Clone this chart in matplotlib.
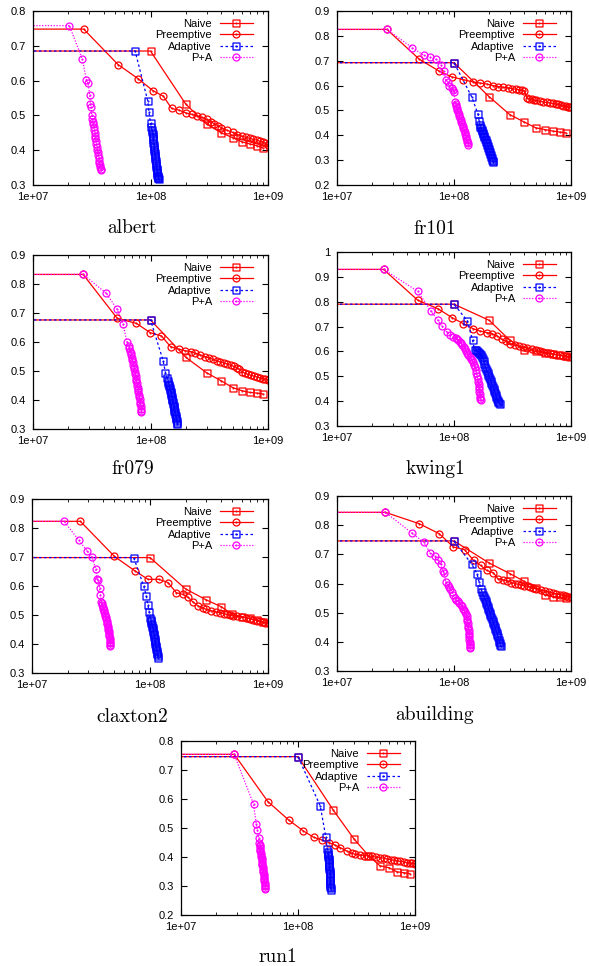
import matplotlib
matplotlib.use("Agg")
import matplotlib.pyplot as plt
import numpy as np
from matplotlib import ticker
from matplotlib.path import Path

plt.rcParams['font.family'] = ['Liberation Sans', 'DejaVu Sans']

# ---------------- data ----------------
# albert
albert_naive_x = [1e6, 1e8, 2e8, 3e8, 4e8, 5e8, 6e8, 7e8, 8e8, 9e8]
albert_naive_y = [0.685, 0.685, 0.532, 0.475, 0.450, 0.436, 0.424, 0.418, 0.413, 0.407]
albert_pre_x = [1e6, 2.7e7, 5.3e7, 7.8e7, 1.05e8, 1.29e8, 1.51e8, 1.76e8, 2.0e8, 2.25e8, 2.5e8, 2.75e8,
                3.0e8, 3.25e8, 3.5e8, 3.75e8, 4.0e8, 4.5e8, 5.0e8, 5.5e8, 6.0e8, 6.5e8, 7.0e8, 7.5e8,
                8.0e8, 8.5e8, 9.0e8, 9.5e8, 1.0e9]
albert_pre_y = [0.748, 0.748, 0.646, 0.606, 0.571, 0.555, 0.520, 0.515, 0.507, 0.503, 0.498, 0.494,
                0.489, 0.482, 0.476, 0.470, 0.465, 0.457, 0.451, 0.445, 0.440, 0.437, 0.434, 0.431,
                0.429, 0.426, 0.424, 0.420, 0.416]
albert_ada_x = [1e6, 7.4e7, 9.5e7, 9.7e7, 1.0e8, 1.015e8, 1.025e8, 1.035e8, 1.04e8, 1.045e8, 1.05e8,
                1.055e8, 1.06e8, 1.065e8, 1.07e8, 1.075e8, 1.08e8, 1.085e8, 1.09e8, 1.095e8, 1.10e8,
                1.105e8, 1.11e8, 1.115e8, 1.12e8, 1.125e8, 1.13e8, 1.135e8, 1.14e8, 1.145e8, 1.15e8,
                1.155e8, 1.16e8, 1.165e8, 1.17e8]
albert_ada_y = [0.685, 0.685, 0.540, 0.510, 0.478, 0.466, 0.458, 0.452, 0.446, 0.440, 0.434,
                0.428, 0.422, 0.416, 0.410, 0.404, 0.398, 0.392, 0.386, 0.380, 0.374,
                0.368, 0.362, 0.357, 0.352, 0.347, 0.342, 0.338, 0.334, 0.330, 0.327,
                0.324, 0.321, 0.319, 0.317]
albert_pa_x = [1e6, 2.04e7, 2.62e7, 2.85e7, 2.94e7, 3.04e7, 3.08e7, 3.12e7, 3.16e7, 3.19e7, 3.22e7,
               3.25e7, 3.28e7, 3.31e7, 3.34e7, 3.37e7, 3.40e7, 3.43e7, 3.46e7, 3.49e7, 3.52e7,
               3.55e7, 3.58e7, 3.61e7, 3.64e7, 3.67e7, 3.70e7, 3.73e7, 3.76e7, 3.78e7]
albert_pa_y = [0.758, 0.758, 0.663, 0.603, 0.592, 0.558, 0.533, 0.525, 0.500, 0.490, 0.482,
               0.474, 0.466, 0.458, 0.450, 0.442, 0.434, 0.426, 0.418, 0.410, 0.402,
               0.394, 0.386, 0.378, 0.370, 0.363, 0.357, 0.351, 0.346, 0.343]

# fr101
fr101_naive_x = [1e6, 1e8, 2e8, 3e8, 4e8, 5e8, 6e8, 7e8, 8e8, 9e8]
fr101_naive_y = [0.692, 0.692, 0.555, 0.483, 0.453, 0.430, 0.423, 0.417, 0.413, 0.410]
fr101_pre_x = [1e6, 2.67e7, 5.05e7, 7.47e7, 9.55e7, 1.2e8, 1.44e8, 1.68e8, 1.92e8, 2.16e8, 2.4e8,
               2.64e8, 2.88e8, 3.12e8, 3.36e8, 3.6e8, 3.84e8, 4.0e8, 4.2e8, 4.4e8, 4.6e8, 4.8e8,
               5.0e8, 5.4e8, 5.8e8, 6.2e8, 6.6e8, 7.0e8, 7.4e8, 7.8e8, 8.2e8, 8.6e8, 9.0e8, 9.4e8,
               9.7e8, 1.0e9]
fr101_pre_y = [0.826, 0.826, 0.706, 0.658, 0.635, 0.624, 0.615, 0.610, 0.606, 0.600, 0.596, 0.593,
               0.591, 0.588, 0.585, 0.583, 0.581, 0.579, 0.550, 0.547, 0.545, 0.543, 0.540, 0.537,
               0.534, 0.532, 0.530, 0.528, 0.526, 0.524, 0.521, 0.519, 0.517, 0.515, 0.513, 0.512]
fr101_ada_x = [1e6, 1e8, 1.42e8, 1.6e8, 1.64e8, 1.66e8, 1.68e8, 1.70e8, 1.72e8, 1.74e8, 1.76e8,
               1.78e8, 1.80e8, 1.82e8, 1.84e8, 1.86e8, 1.88e8, 1.90e8, 1.92e8, 1.94e8, 1.96e8,
               1.98e8, 2.00e8, 2.02e8, 2.04e8, 2.06e8, 2.08e8, 2.10e8, 2.12e8, 2.14e8, 2.16e8]
fr101_ada_y = [0.692, 0.692, 0.554, 0.486, 0.458, 0.441, 0.434, 0.428, 0.422, 0.416, 0.410,
               0.404, 0.398, 0.392, 0.386, 0.380, 0.374, 0.368, 0.362, 0.356, 0.350,
               0.344, 0.338, 0.332, 0.326, 0.320, 0.314, 0.308, 0.302, 0.297, 0.293]
fr101_pa_x = [1e6, 2.67e7, 4.37e7, 5.5e7, 6.27e7, 7.05e7, 7.77e7, 8.15e7, 8.5e7, 8.85e7, 9.1e7,
              9.6e7, 9.9e7, 1.0e8, 1.02e8, 1.03e8, 1.04e8, 1.055e8, 1.07e8, 1.08e8, 1.095e8,
              1.11e8, 1.125e8, 1.14e8, 1.155e8, 1.17e8, 1.185e8, 1.20e8, 1.215e8, 1.23e8, 1.24e8,
              1.255e8, 1.265e8, 1.28e8, 1.29e8, 1.305e8, 1.32e8]
fr101_pa_y = [0.826, 0.826, 0.753, 0.722, 0.713, 0.705, 0.682, 0.658, 0.624, 0.615, 0.597,
              0.590, 0.584, 0.575, 0.534, 0.526, 0.518, 0.510, 0.502, 0.494, 0.486,
              0.478, 0.470, 0.462, 0.454, 0.446, 0.438, 0.430, 0.422, 0.414, 0.406,
              0.398, 0.390, 0.382, 0.374, 0.367, 0.361]

# fr079
fr079_naive_x = [1e6, 1e8, 2e8, 3e8, 4e8, 5e8, 6e8, 7e8, 8e8, 9e8]
fr079_naive_y = [0.676, 0.676, 0.547, 0.494, 0.466, 0.443, 0.432, 0.426, 0.424, 0.421]
fr079_pre_x = [1e6, 2.67e7, 5.2e7, 7.6e7, 9.96e7, 1.24e8, 1.48e8, 1.74e8, 1.98e8, 2.2e8, 2.4e8,
               2.65e8, 2.9e8, 3.15e8, 3.4e8, 3.65e8, 3.9e8, 4.2e8, 4.5e8, 4.8e8, 5.1e8, 5.4e8,
               5.7e8, 6.0e8, 6.4e8, 6.8e8, 7.2e8, 7.6e8, 8.0e8, 8.5e8, 9.0e8, 9.5e8, 1.0e9]
fr079_pre_y = [0.833, 0.833, 0.682, 0.664, 0.632, 0.621, 0.584, 0.575, 0.570, 0.567, 0.561, 0.556,
               0.550, 0.545, 0.540, 0.536, 0.532, 0.528, 0.524, 0.520, 0.516, 0.512, 0.506, 0.498,
               0.492, 0.488, 0.485, 0.482, 0.480, 0.477, 0.474, 0.472, 0.470]
fr079_ada_x = [1e6, 1e8, 1.28e8, 1.34e8, 1.38e8, 1.41e8, 1.42e8, 1.43e8, 1.445e8, 1.455e8, 1.465e8,
               1.48e8, 1.49e8, 1.50e8, 1.51e8, 1.52e8, 1.535e8, 1.545e8, 1.555e8, 1.57e8, 1.58e8,
               1.59e8, 1.60e8, 1.615e8, 1.625e8, 1.64e8, 1.65e8, 1.66e8, 1.67e8, 1.675e8, 1.68e8]
fr079_ada_y = [0.676, 0.676, 0.536, 0.494, 0.477, 0.465, 0.459, 0.453, 0.447, 0.441, 0.435,
               0.429, 0.423, 0.417, 0.411, 0.405, 0.399, 0.393, 0.387, 0.381, 0.375,
               0.369, 0.363, 0.357, 0.351, 0.345, 0.339, 0.333, 0.327, 0.321, 0.316]
fr079_pa_x = [1e6, 2.67e7, 4.2e7, 5.2e7, 5.84e7, 6.3e7, 6.5e7, 6.6e7, 6.7e7, 6.78e7, 6.85e7,
              6.93e7, 7.0e7, 7.08e7, 7.15e7, 7.22e7, 7.28e7, 7.35e7, 7.42e7, 7.48e7, 7.54e7,
              7.6e7, 7.66e7, 7.72e7, 7.78e7, 7.84e7, 7.9e7, 7.96e7, 8.02e7, 8.08e7, 8.13e7,
              8.18e7, 8.23e7, 8.28e7, 8.32e7, 8.35e7]
fr079_pa_y = [0.833, 0.833, 0.768, 0.713, 0.661, 0.601, 0.586, 0.578, 0.570, 0.562, 0.554,
              0.546, 0.538, 0.530, 0.522, 0.514, 0.506, 0.498, 0.490, 0.482, 0.474,
              0.466, 0.458, 0.450, 0.442, 0.434, 0.426, 0.418, 0.410, 0.402, 0.394,
              0.386, 0.378, 0.370, 0.363, 0.357]

# kwing1
kwing1_naive_x = [1e6, 1e8, 2e8, 3e8, 4e8, 5e8, 6e8, 7e8, 8e8, 9e8]
kwing1_naive_y = [0.790, 0.790, 0.725, 0.645, 0.607, 0.600, 0.594, 0.590, 0.585, 0.580]
kwing1_pre_x = [1e6, 2.5e7, 4.9e7, 7.28e7, 9.7e7, 1.2e8, 1.45e8, 1.67e8, 1.9e8, 2.1e8, 2.35e8,
                2.58e8, 2.8e8, 3.0e8, 3.3e8, 3.6e8, 3.9e8, 4.2e8, 4.6e8, 5.0e8, 5.4e8, 5.8e8,
                6.2e8, 6.6e8, 7.0e8, 7.5e8, 8.0e8, 8.5e8, 9.0e8, 9.5e8, 1.0e9]
kwing1_pre_y = [0.930, 0.930, 0.806, 0.772, 0.735, 0.712, 0.692, 0.682, 0.676, 0.672, 0.662,
                0.648, 0.641, 0.631, 0.625, 0.621, 0.617, 0.613, 0.609, 0.605, 0.601, 0.598,
                0.595, 0.592, 0.590, 0.587, 0.585, 0.583, 0.581, 0.579, 0.578]
kwing1_ada_x = [1e6, 1e8, 1.3e8, 1.44e8, 1.5e8, 1.55e8, 1.58e8, 1.61e8, 1.64e8, 1.67e8, 1.70e8,
                1.73e8, 1.76e8, 1.79e8, 1.82e8, 1.85e8, 1.88e8, 1.91e8, 1.94e8, 1.97e8, 2.00e8,
                2.03e8, 2.06e8, 2.09e8, 2.12e8, 2.15e8, 2.18e8, 2.21e8, 2.24e8, 2.27e8, 2.30e8,
                2.33e8, 2.36e8, 2.40e8, 2.44e8, 2.48e8]
kwing1_ada_y = [0.790, 0.790, 0.723, 0.645, 0.607, 0.605, 0.600, 0.596, 0.592, 0.588, 0.584,
                0.578, 0.570, 0.560, 0.548, 0.538, 0.528, 0.520, 0.512, 0.505, 0.497,
                0.489, 0.481, 0.473, 0.465, 0.457, 0.449, 0.441, 0.432, 0.424, 0.416,
                0.409, 0.402, 0.396, 0.391, 0.387]
kwing1_pa_x = [1e6, 2.5e7, 4.9e7, 6.38e7, 7.28e7, 7.9e7, 8.7e7, 9.3e7, 9.9e7, 1.03e8, 1.06e8,
               1.09e8, 1.12e8, 1.15e8, 1.18e8, 1.21e8, 1.24e8, 1.27e8, 1.30e8, 1.33e8, 1.36e8,
               1.39e8, 1.42e8, 1.45e8, 1.48e8, 1.51e8, 1.53e8, 1.55e8, 1.57e8, 1.59e8, 1.61e8,
               1.62e8, 1.63e8, 1.64e8, 1.65e8, 1.66e8, 1.67e8, 1.68e8, 1.69e8]
kwing1_pa_y = [0.930, 0.930, 0.842, 0.761, 0.725, 0.701, 0.678, 0.665, 0.658, 0.655, 0.650,
               0.644, 0.638, 0.632, 0.626, 0.618, 0.610, 0.600, 0.592, 0.584, 0.577,
               0.571, 0.564, 0.556, 0.546, 0.536, 0.526, 0.514, 0.502, 0.490, 0.478,
               0.468, 0.458, 0.448, 0.438, 0.428, 0.418, 0.410, 0.404]

# claxton2
claxton2_naive_x = [1e6, 1e8, 2e8, 3e8, 4e8, 5e8, 6e8, 7e8, 8e8, 9e8]
claxton2_naive_y = [0.698, 0.698, 0.590, 0.552, 0.529, 0.502, 0.494, 0.488, 0.482, 0.477]
claxton2_pre_x = [1e6, 2.57e7, 5.0e7, 7.4e7, 9.6e7, 1.19e8, 1.42e8, 1.67e8, 1.9e8, 2.1e8, 2.3e8,
                  2.56e8, 2.8e8, 3.0e8, 3.3e8, 3.6e8, 3.9e8, 4.2e8, 4.5e8, 4.8e8, 5.1e8, 5.5e8,
                  6.0e8, 6.5e8, 7.0e8, 7.5e8, 8.0e8, 8.5e8, 9.0e8, 9.5e8, 1.0e9]
claxton2_pre_y = [0.823, 0.823, 0.702, 0.653, 0.623, 0.623, 0.612, 0.577, 0.571, 0.561, 0.546,
                  0.531, 0.525, 0.519, 0.515, 0.511, 0.508, 0.505, 0.502, 0.499, 0.497, 0.495,
                  0.493, 0.490, 0.487, 0.484, 0.481, 0.478, 0.476, 0.474, 0.473]
claxton2_ada_x = [1e6, 7.28e7, 8.84e7, 9.3e7, 9.6e7, 9.85e7, 1.0e8, 1.01e8, 1.02e8, 1.025e8,
                  1.035e8, 1.045e8, 1.055e8, 1.06e8, 1.07e8, 1.075e8, 1.08e8, 1.09e8, 1.095e8,
                  1.10e8, 1.105e8, 1.11e8, 1.12e8, 1.125e8, 1.13e8, 1.14e8, 1.145e8, 1.15e8,
                  1.16e8, 1.17e8]
claxton2_ada_y = [0.698, 0.698, 0.600, 0.567, 0.534, 0.511, 0.490, 0.484, 0.478, 0.472,
                  0.466, 0.460, 0.454, 0.448, 0.442, 0.436, 0.430, 0.424, 0.418,
                  0.412, 0.406, 0.400, 0.394, 0.388, 0.382, 0.376, 0.370, 0.364,
                  0.358, 0.352]
claxton2_pa_x = [1e6, 1.87e7, 2.5e7, 2.92e7, 3.25e7, 3.46e7, 3.57e7, 3.65e7, 3.74e7, 3.8e7,
                 3.87e7, 3.91e7, 3.95e7, 3.99e7, 4.03e7, 4.07e7, 4.11e7, 4.15e7, 4.19e7, 4.22e7,
                 4.25e7, 4.28e7, 4.31e7, 4.34e7, 4.37e7, 4.40e7, 4.43e7, 4.46e7, 4.48e7, 4.50e7,
                 4.52e7, 4.54e7, 4.56e7, 4.57e7, 4.58e7, 4.59e7, 4.60e7]
claxton2_pa_y = [0.823, 0.823, 0.757, 0.722, 0.699, 0.658, 0.623, 0.620, 0.592, 0.569,
                 0.546, 0.540, 0.534, 0.528, 0.522, 0.516, 0.510, 0.504, 0.498, 0.492,
                 0.486, 0.480, 0.474, 0.468, 0.462, 0.456, 0.450, 0.444, 0.438, 0.432,
                 0.426, 0.420, 0.414, 0.408, 0.402, 0.396, 0.392]

# abuilding
abuilding_naive_x = [1e6, 1e8, 2e8, 3e8, 4e8, 5e8, 6e8, 7e8, 8e8, 9e8]
abuilding_naive_y = [0.746, 0.746, 0.670, 0.634, 0.607, 0.585, 0.560, 0.555, 0.553, 0.551]
abuilding_pre_x = [1e6, 2.59e7, 5.05e7, 7.46e7, 9.9e7, 1.23e8, 1.47e8, 1.69e8, 1.9e8, 2.17e8,
                   2.36e8, 2.6e8, 2.85e8, 3.1e8, 3.3e8, 3.5e8, 3.75e8, 4.0e8, 4.25e8, 4.5e8,
                   4.75e8, 5.0e8, 5.5e8, 6.0e8, 6.5e8, 7.0e8, 7.5e8, 8.0e8, 8.5e8, 9.0e8,
                   9.5e8, 1.0e9]
abuilding_pre_y = [0.844, 0.844, 0.805, 0.771, 0.725, 0.716, 0.679, 0.662, 0.645, 0.637, 0.617,
                   0.613, 0.609, 0.603, 0.600, 0.598, 0.595, 0.593, 0.590, 0.588, 0.585, 0.582,
                   0.578, 0.575, 0.571, 0.568, 0.565, 0.562, 0.560, 0.557, 0.555, 0.553]
abuilding_ada_x = [1e6, 1e8, 1.42e8, 1.57e8, 1.64e8, 1.7e8, 1.74e8, 1.77e8, 1.80e8, 1.83e8,
                   1.86e8, 1.89e8, 1.92e8, 1.945e8, 1.97e8, 1.995e8, 2.02e8, 2.05e8, 2.08e8,
                   2.11e8, 2.14e8, 2.17e8, 2.2e8, 2.23e8, 2.26e8, 2.29e8, 2.32e8, 2.35e8,
                   2.38e8, 2.41e8, 2.44e8, 2.465e8, 2.49e8, 2.51e8]
abuilding_ada_y = [0.746, 0.746, 0.666, 0.634, 0.605, 0.582, 0.570, 0.562, 0.555, 0.548,
                   0.541, 0.534, 0.527, 0.520, 0.513, 0.506, 0.499, 0.492, 0.485,
                   0.478, 0.471, 0.464, 0.457, 0.450, 0.443, 0.436, 0.429, 0.422,
                   0.415, 0.408, 0.401, 0.395, 0.390, 0.386]
abuilding_pa_x = [1e6, 2.59e7, 4.37e7, 5.5e7, 6.27e7, 6.82e7, 7.28e7, 7.7e7, 7.98e7, 8.2e7,
                  8.5e7, 8.8e7, 9.0e7, 9.3e7, 9.6e7, 9.9e7, 1.02e8, 1.05e8, 1.08e8, 1.11e8,
                  1.14e8, 1.17e8, 1.20e8, 1.22e8, 1.24e8, 1.26e8, 1.28e8, 1.29e8, 1.30e8,
                  1.31e8, 1.32e8, 1.33e8, 1.335e8, 1.34e8, 1.345e8, 1.35e8, 1.355e8, 1.36e8,
                  1.365e8, 1.37e8, 1.37e8, 1.36e8]
abuilding_pa_y = [0.844, 0.844, 0.773, 0.742, 0.705, 0.693, 0.679, 0.666, 0.643, 0.636,
                  0.605, 0.594, 0.588, 0.582, 0.572, 0.559, 0.552, 0.545, 0.539, 0.533,
                  0.528, 0.522, 0.514, 0.508, 0.502, 0.495, 0.488, 0.480, 0.472,
                  0.464, 0.456, 0.448, 0.440, 0.432, 0.424, 0.416, 0.408, 0.400,
                  0.394, 0.388, 0.382, 0.378]

# run1
run1_naive_x = [1e6, 1e8, 2e8, 3e8, 4e8, 5e8, 6e8, 7e8, 8e8, 9e8]
run1_naive_y = [0.746, 0.746, 0.562, 0.463, 0.405, 0.370, 0.363, 0.349, 0.346, 0.343]
run1_pre_x = [1e6, 2.85e7, 5.53e7, 8.3e7, 1.11e8, 1.36e8, 1.59e8, 1.84e8, 2.07e8, 2.3e8, 2.6e8,
              2.87e8, 3.1e8, 3.4e8, 3.7e8, 4.0e8, 4.3e8, 4.6e8, 5.0e8, 5.4e8, 5.8e8, 6.2e8,
              6.6e8, 7.0e8, 7.5e8, 8.0e8, 8.5e8, 9.0e8, 9.5e8, 1.0e9]
run1_pre_y = [0.754, 0.754, 0.591, 0.528, 0.490, 0.468, 0.459, 0.450, 0.441, 0.432, 0.421,
              0.413, 0.409, 0.407, 0.405, 0.404, 0.402, 0.400, 0.398, 0.396, 0.393, 0.391,
              0.389, 0.387, 0.385, 0.383, 0.381, 0.380, 0.378, 0.377]
run1_ada_x = [1e6, 1e8, 1.55e8, 1.73e8, 1.78e8, 1.79e8, 1.795e8, 1.80e8, 1.82e8, 1.825e8, 1.83e8,
              1.835e8, 1.84e8, 1.845e8, 1.85e8, 1.855e8, 1.86e8, 1.865e8, 1.87e8, 1.875e8,
              1.88e8, 1.88e8, 1.885e8, 1.89e8, 1.89e8, 1.895e8, 1.90e8, 1.90e8]
run1_ada_y = [0.746, 0.746, 0.576, 0.468, 0.427, 0.418, 0.412, 0.406, 0.400, 0.394, 0.388,
              0.382, 0.376, 0.370, 0.364, 0.358, 0.352, 0.346, 0.340, 0.334,
              0.328, 0.322, 0.316, 0.310, 0.304, 0.298, 0.292, 0.287]
run1_pa_x = [1e6, 2.85e7, 4.17e7, 4.4e7, 4.5e7, 4.6e7, 4.67e7, 4.69e7, 4.71e7, 4.73e7, 4.75e7,
             4.77e7, 4.80e7, 4.83e7, 4.86e7, 4.89e7, 4.91e7, 4.93e7, 4.95e7, 4.97e7, 4.99e7,
             5.01e7, 5.03e7, 5.05e7, 5.08e7, 5.10e7, 5.12e7, 5.14e7, 5.16e7, 5.18e7, 5.20e7,
             5.22e7, 5.23e7, 5.25e7]
run1_pa_y = [0.754, 0.754, 0.582, 0.513, 0.493, 0.464, 0.449, 0.443, 0.437, 0.431, 0.425,
             0.419, 0.413, 0.407, 0.401, 0.395, 0.389, 0.383, 0.377, 0.371, 0.365,
             0.359, 0.353, 0.347, 0.341, 0.335, 0.329, 0.323, 0.317, 0.311, 0.305,
             0.299, 0.293, 0.289]

series_names = ["Naive", "Preemptive", "Adaptive", "P+A"]

# ---------------- styling ----------------
W, H = 589, 966
sq = Path.make_compound_path(
    Path([(-1, -1), (1, -1), (1, 1), (-1, 1), (-1, -1)], closed=True),
    Path.circle((0, 0), 0.12))
cd = Path.make_compound_path(Path.circle((0, 0), 1.0), Path.circle((0, 0), 0.12))
styles = [
    dict(color="#ff0000", ls="-", marker=sq),
    dict(color="#ff0000", ls="-", marker=cd),
    dict(color="#0000ff", ls=(0, (2, 2)), marker=sq),
    dict(color="#ff00ff", ls=(0, (1, 1.3)), marker=cd),
]

# name, ylim, data, axes box (l, t, r, b) px, caption centre px
panels = [
    ("albert", (0.3, 0.8),
     [(albert_naive_x, albert_naive_y), (albert_pre_x, albert_pre_y),
      (albert_ada_x, albert_ada_y), (albert_pa_x, albert_pa_y)],
     (33, 11, 268, 185), (132, 228)),
    ("fr101", (0.2, 0.9),
     [(fr101_naive_x, fr101_naive_y), (fr101_pre_x, fr101_pre_y),
      (fr101_ada_x, fr101_ada_y), (fr101_pa_x, fr101_pa_y)],
     (337, 11, 571, 185), (435, 229)),
    ("fr079", (0.3, 0.9),
     [(fr079_naive_x, fr079_naive_y), (fr079_pre_x, fr079_pre_y),
      (fr079_ada_x, fr079_ada_y), (fr079_pa_x, fr079_pa_y)],
     (33, 255, 268, 429), (133, 469)),
    ("kwing1", (0.3, 1.0),
     [(kwing1_naive_x, kwing1_naive_y), (kwing1_pre_x, kwing1_pre_y),
      (kwing1_ada_x, kwing1_ada_y), (kwing1_pa_x, kwing1_pa_y)],
     (337, 252, 571, 426), (435, 469)),
    ("claxton2", (0.3, 0.9),
     [(claxton2_naive_x, claxton2_naive_y), (claxton2_pre_x, claxton2_pre_y),
      (claxton2_ada_x, claxton2_ada_y), (claxton2_pa_x, claxton2_pa_y)],
     (32, 499, 268, 673), (132, 717)),
    ("abuilding", (0.3, 0.9),
     [(abuilding_naive_x, abuilding_naive_y), (abuilding_pre_x, abuilding_pre_y),
      (abuilding_ada_x, abuilding_ada_y), (abuilding_pa_x, abuilding_pa_y)],
     (337, 496, 571, 671), (435, 715)),
    ("run1", (0.2, 0.8),
     [(run1_naive_x, run1_naive_y), (run1_pre_x, run1_pre_y),
      (run1_ada_x, run1_ada_y), (run1_pa_x, run1_pa_y)],
     (181, 741, 415, 915), (278, 957)),
]

fig = plt.figure(figsize=(W / 100, H / 100), dpi=100)

for name, ylim, data, (l, t, r, b), (cx, cy) in panels:
    ax = fig.add_axes([l / W, 1 - b / H, (r - l) / W, (b - t) / H])
    for (x, y), st, lab in zip(data, styles, series_names):
        ax.plot(x, y, color=st["color"], linestyle=st["ls"], lw=0.9,
                marker=st["marker"], markersize=5.0, markerfacecolor="none",
                markeredgewidth=0.9, label=lab)
    ax.set_xscale("log")
    ax.set_xlim(1e7, 1e9)
    ax.set_ylim(*ylim)
    ax.yaxis.set_major_locator(ticker.MultipleLocator(0.1))
    ax.yaxis.set_major_formatter(ticker.FuncFormatter(lambda v, p: "%g" % round(v, 2)))
    ax.xaxis.set_major_locator(ticker.LogLocator(base=10, numticks=5))
    ax.xaxis.set_minor_locator(ticker.LogLocator(base=10, subs=np.arange(2, 10), numticks=20))
    ax.xaxis.set_major_formatter(ticker.FuncFormatter(lambda v, p: "%.0e" % v))
    ax.xaxis.set_minor_formatter(ticker.NullFormatter())
    ax.tick_params(which="both", direction="in", top=True, right=True, labelsize=8)
    ax.tick_params(which="major", length=4, width=0.8)
    ax.tick_params(which="minor", length=2, width=0.6)
    ax.tick_params(axis="y", pad=5)
    ax.tick_params(axis="x", pad=5)
    for s in ax.spines.values():
        s.set_linewidth(0.9)
    ax.legend(loc="upper right", bbox_to_anchor=(1 - 15 / (r - l), 1 - 8 / (b - t)),
              frameon=False, markerfirst=False, fontsize=8, handlelength=3.0,
              handletextpad=0.7, labelspacing=0.12, borderaxespad=0, borderpad=0)
    fig.text(cx / W, 1 - cy / H, name, ha="center", va="center",
             family="cmr10", fontsize=14)

fig.savefig("out.png", dpi=100)
